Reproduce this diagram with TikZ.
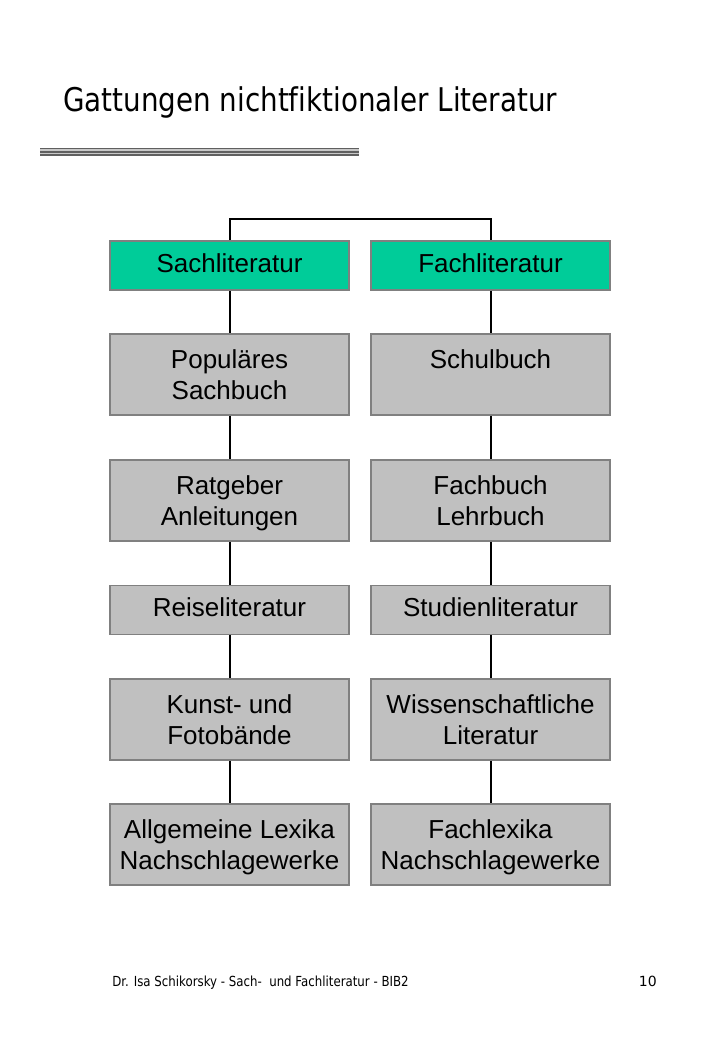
\documentclass[tikz,border=0pt]{standalone}
\usepackage{fontspec}
\setmainfont{Liberation Sans}
\newfontfamily\titlefont[FakeStretch=0.85, Ligatures=NoCommon]{DejaVu Sans}
\newfontfamily\pagefont{DejaVu Sans}
\usepackage{xcolor}
\definecolor{headgreen}{RGB}{0,204,153}
\definecolor{boxgray}{RGB}{192,192,192}
\definecolor{rimgray}{RGB}{128,128,128}
\definecolor{stripedark}{RGB}{96,96,96}
\definecolor{stripelight}{RGB}{200,200,200}

\begin{document}
\begin{tikzpicture}[x=0.75pt, y=-0.75pt,
  box/.style={draw=rimgray, line width=1.4pt, fill=boxgray, rectangle, inner sep=0pt,
    minimum width=179.25pt, minimum height=60.75pt, align=center,
    text height=37.25pt, text depth=0pt,
    font=\fontsize{19.5}{23}\selectfont},
  flat/.style={box, minimum height=36.75pt, text height=14.25pt, text depth=4pt},
  head/.style={flat, fill=headgreen},
  link/.style={line width=1.5pt, black}]
\useasboundingbox (0,0) rectangle (720,1040);

% title and underline
\node[anchor=base west, inner sep=0pt, font=\titlefont\fontsize{24.5}{28}\selectfont] (title) at (63,111.7) {Gattungen nichtfiktionaler Literatur};
\draw[stripedark, line width=1pt] (40,148.5) -- (359,148.5);
\draw[stripelight, line width=1pt] (40,150) -- (359,150);
\draw[stripedark, line width=1.2pt] (40,151.8) -- (359,151.8);
\draw[stripelight, line width=1pt] (40,153.5) -- (359,153.5);
\draw[stripedark, line width=1pt] (40,155) -- (359,155);

% left column
\node[head] (sach) at (229.5,265.5) {Sachliteratur};
\node[box] (pop) at (229.5,374.5) {Populäres\\Sachbuch};
\node[box] (rat) at (229.5,500.5) {Ratgeber\\Anleitungen};
\node[flat] (reise) at (229.5,610) {Reiseliteratur};
\node[box] (kunst) at (229.5,719.5) {Kunst- und\\Fotobände};
\node[box] (lex) at (229.5,844.5) {Allgemeine Lexika\\Nachschlagewerke};

% right column
\node[head] (fach) at (490.5,265.5) {Fachliteratur};
\node[box] (schul) at (490.5,374.5) {Schulbuch\\\mbox{}};
\node[box] (lehr) at (490.5,500.5) {Fachbuch\\Lehrbuch};
\node[flat] (stud) at (490.5,610) {Studienliteratur};
\node[box] (wiss) at (490.5,719.5) {Wissenschaftliche\\Literatur};
\node[box] (flex) at (490.5,844.5) {Fachlexika\\Nachschlagewerke};

\coordinate (topl) at (229.5,219);
\coordinate (topr) at (490.5,219);
\draw[link] (sach.north) -- (topl) -- (topr) -- (fach.north);

\draw[link] (sach) -- (pop);
\draw[link] (pop) -- (rat);
\draw[link] (rat) -- (reise);
\draw[link] (reise) -- (kunst);
\draw[link] (kunst) -- (lex);

\draw[link] (fach) -- (schul);
\draw[link] (schul) -- (lehr);
\draw[link] (lehr) -- (stud);
\draw[link] (stud) -- (wiss);
\draw[link] (wiss) -- (flex);

% footer
\node[anchor=base west, inner sep=0pt, font=\titlefont\fontsize{10.4}{12}\selectfont] (foot) at (112,986.5) {Dr. Isa Schikorsky - Sach-\ \ und Fachliteratur - BIB2};
\node[anchor=base east, inner sep=0pt, font=\pagefont\fontsize{10.5}{12}\selectfont] (page) at (657,986.5) {10};
\end{tikzpicture}
\end{document}
